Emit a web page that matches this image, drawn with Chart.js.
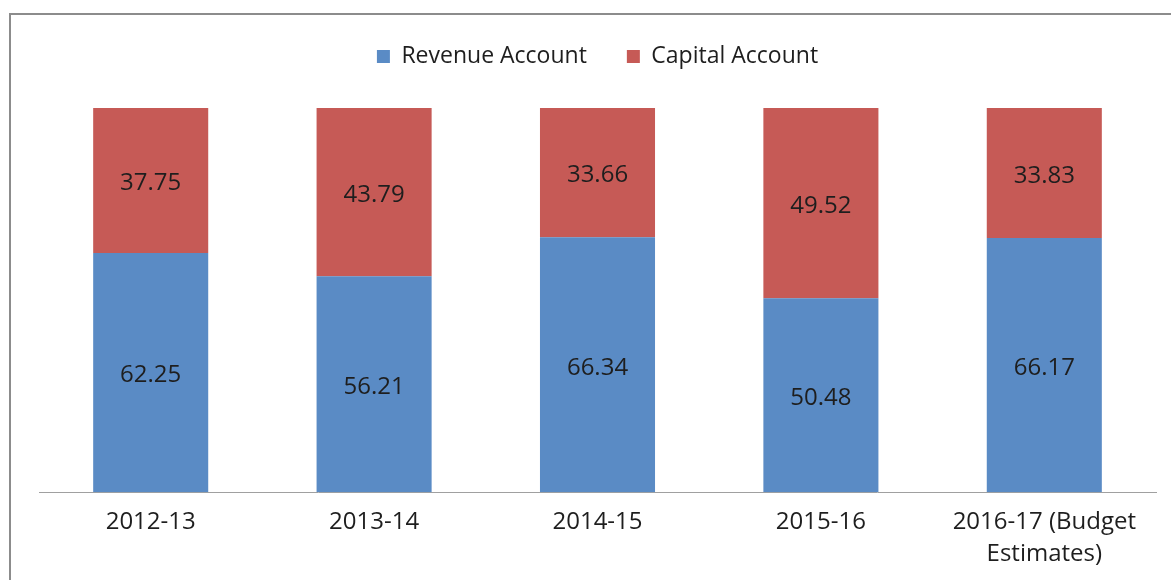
<!DOCTYPE html>
<html>
<head>
<meta charset="utf-8">
<script src="https://cdn.jsdelivr.net/npm/chart.js@4/dist/chart.umd.min.js"></script>
<style>
body{margin:0;background:#fff}
#frame{position:absolute;left:9px;top:13px;width:1300px;height:700px;border-top:2px solid #8c8c8c;border-left:2px solid #8c8c8c}
#chart{position:absolute;left:0;top:0}
</style>
</head>
<body>
<div id="frame"></div>
<canvas id="chart" width="1171" height="580"></canvas>
<script>
const categories=["2012-13","2013-14","2014-15","2015-16",["2016-17 (Budget","Estimates)"]]
const revenueAccount=[62.25,56.21,66.34,50.48,66.17]
const capitalAccount=[37.75,43.79,33.66,49.52,33.83]

const fontFamily="'Open Sans', sans-serif"
const textColor="#1e1e1e"

// draws the value in the middle of each bar segment
const valueLabels={
id:"valueLabels",
afterDatasetsDraw(chart){
const ctx=chart.ctx
ctx.save()
ctx.font="24px "+fontFamily
ctx.fillStyle=textColor
ctx.textAlign="center"
ctx.textBaseline="middle"
chart.data.datasets.forEach((ds,i)=>{
chart.getDatasetMeta(i).data.forEach((bar,j)=>{
ctx.fillText(ds.data[j].toFixed(2),bar.x,(bar.y+bar.base)/2+3)
})
})
ctx.restore()
}
}

// extra room between the legend and the bars
const legendGap={
id:"legendGap",
beforeInit(chart){
const fit=chart.legend.fit
chart.legend.fit=function(){
fit.call(this)
this.height+=30
}
}
}

new Chart(document.getElementById("chart").getContext("2d"),{
type:"bar",
data:{
labels:categories,
datasets:[{
label:"Revenue Account",
data:revenueAccount,
backgroundColor:"#5a8bc5"
},{
label:"Capital Account",
data:capitalAccount,
backgroundColor:"#c65a56"
}]
},
options:{
responsive:false,
animation:false,
layout:{padding:{top:5,left:39,right:15,bottom:-4}},
datasets:{bar:{categoryPercentage:1,barPercentage:0.515}},
plugins:{
tooltip:{enabled:false},
legend:{
position:"top",
labels:{
boxWidth:13,
boxHeight:13,
padding:40,
color:textColor,
font:{family:fontFamily,size:23}
}
}
},
scales:{
x:{
stacked:true,
grid:{display:false,drawTicks:false},
border:{display:true,color:"#a0a0a0",width:1},
ticks:{
color:textColor,
padding:14,
maxRotation:0,
autoSkip:false,
font:{family:fontFamily,size:24,lineHeight:1.33}
}
},
y:{
stacked:true,
display:false,
min:0,
max:100
}
}
},
plugins:[valueLabels,legendGap]
})
</script>
</body>
</html>
